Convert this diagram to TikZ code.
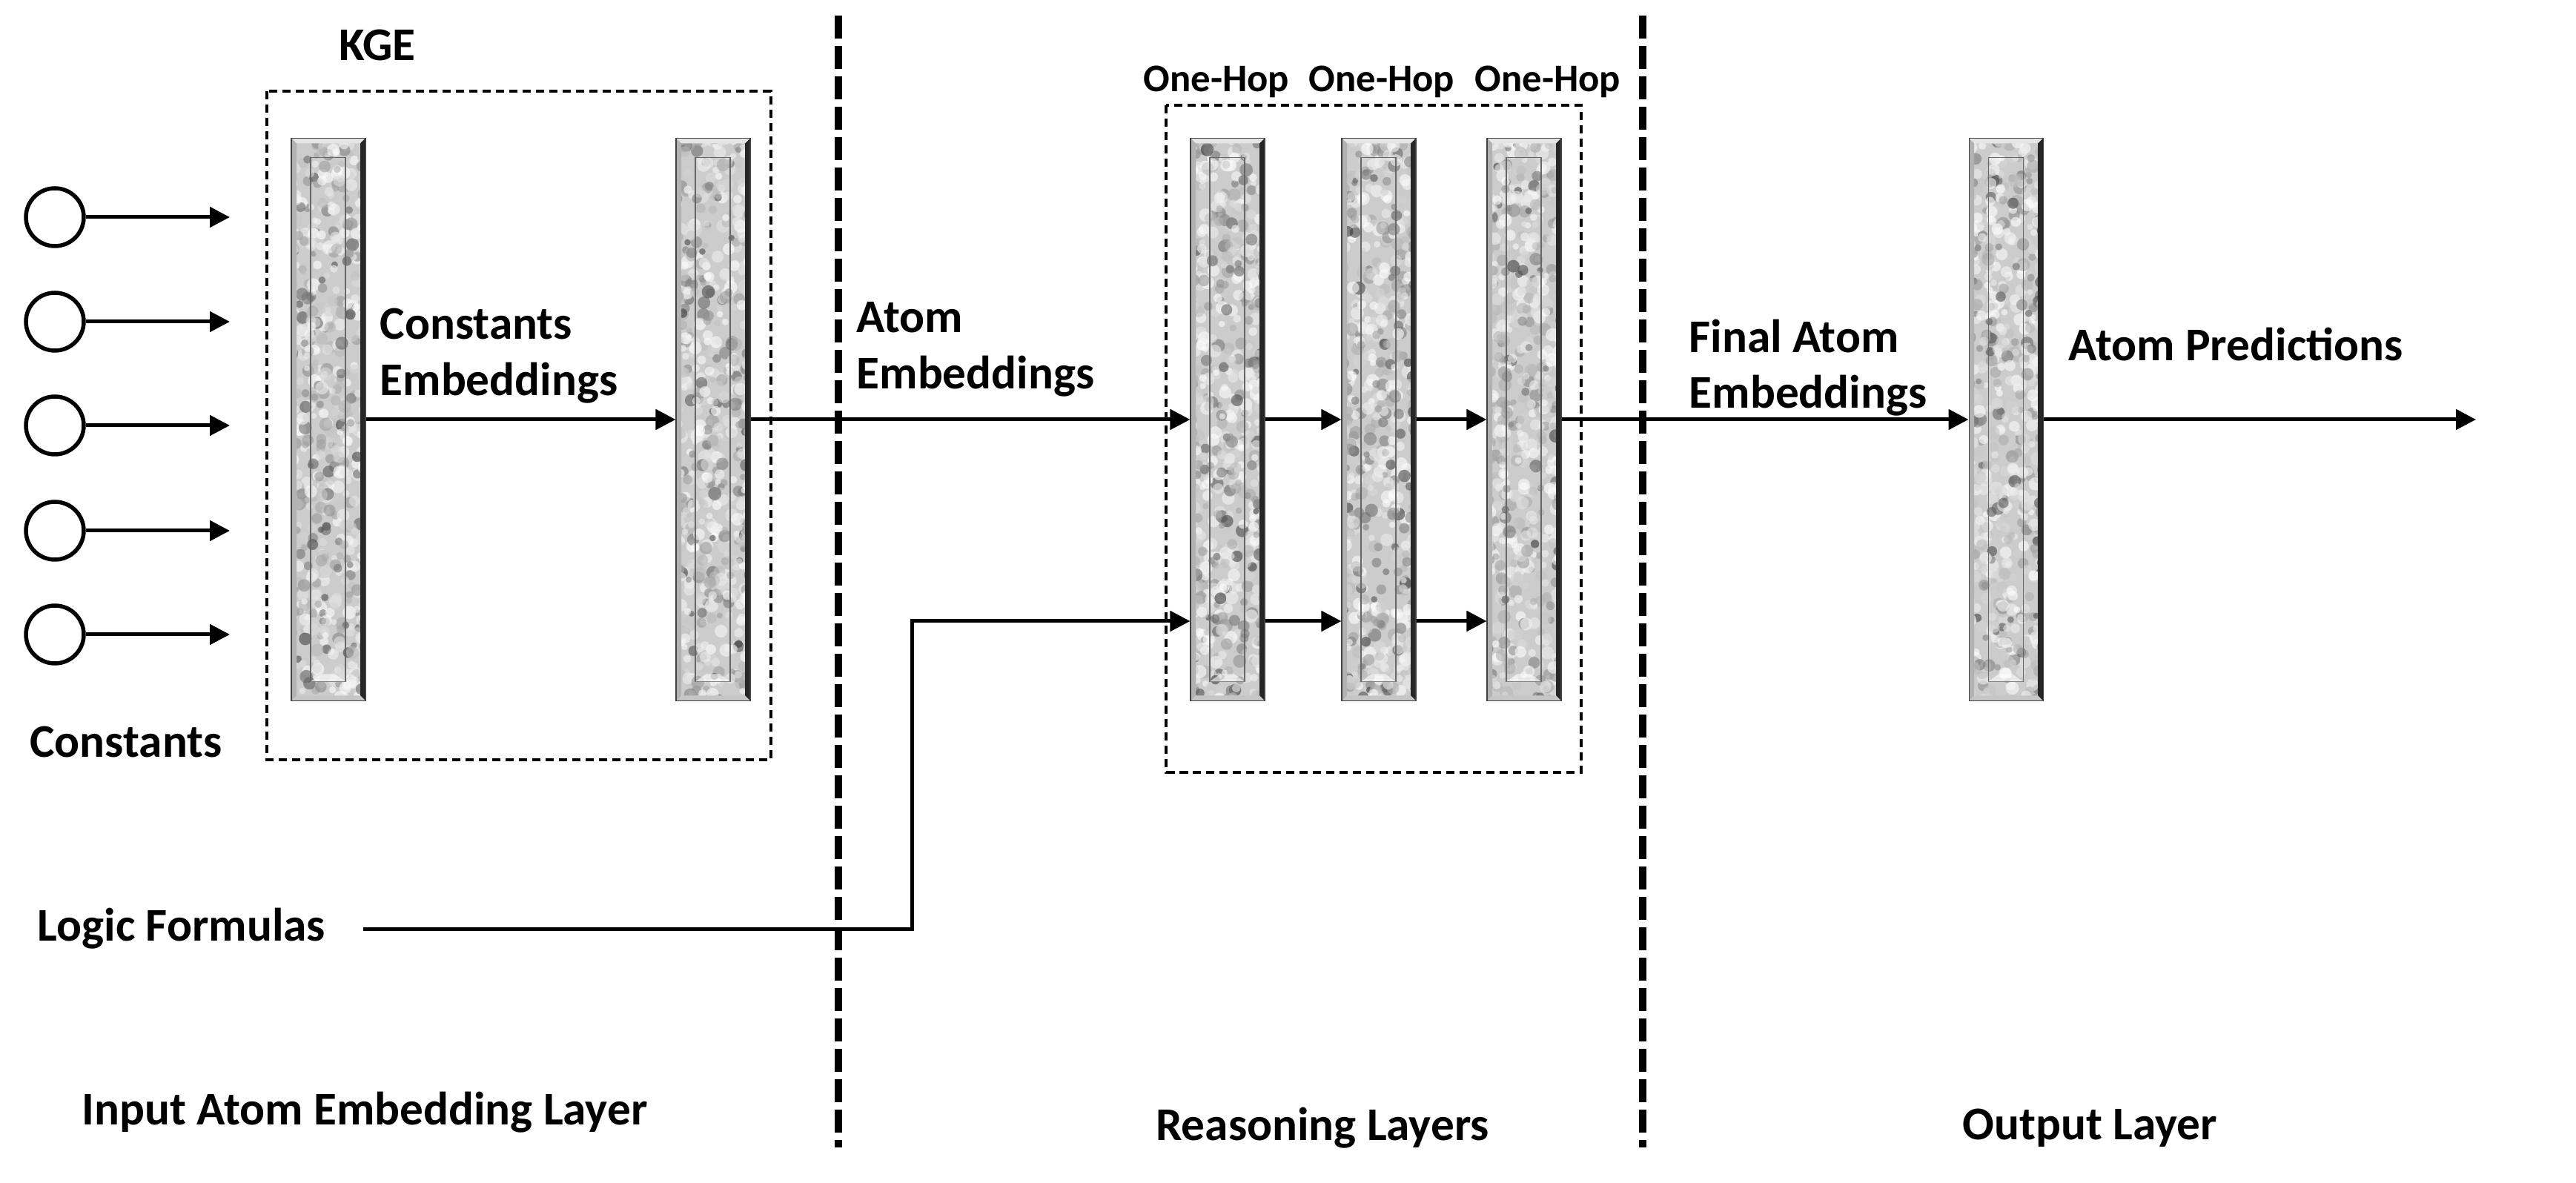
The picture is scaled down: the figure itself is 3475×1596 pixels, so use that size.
\documentclass[tikz,border=0pt]{standalone}
\usepackage{fontspec}
\setmainfont{Carlito}
\usetikzlibrary{arrows.meta}
\usetikzlibrary{positioning}
\usetikzlibrary{calc}
\tikzstyle{conn}=[-{Triangle[length=2.7mm,width=2.7mm]},line width=0.5mm]
\tikzstyle{lbl}=[inner sep=0pt,font=\bfseries\fontsize{18}{21.6}\selectfont,align=left]

\begin{document}
\begin{tikzpicture}[
  x=0.1mm, y=-0.1mm,
  constnode/.style={circle,draw,line width=0.55mm,minimum size=7.8mm,inner sep=0},
  small lbl/.style={lbl,font=\bfseries\fontsize{15}{18}\selectfont},
  groupbox/.style={line width=0.4mm,dash pattern=on 1.15mm off 0.65mm},
  separator/.style={line width=1mm,dash pattern=on 3.1mm off 1mm},
  layer bar/.style={rectangle,minimum width=10mm,minimum height=75.9mm,inner sep=0,
    fill=gray!40,draw=gray!50!black,line width=0.3pt,
    path picture={
      % granite look
      \foreach \k in {1,...,600}{
        \pgfmathsetmacro\gx{rnd}
        \pgfmathsetmacro\gy{rnd}
        \pgfmathsetmacro\gs{0.4+0.5*rnd}
        \pgfmathsetmacro\gt{int(85*rnd*rnd)}
        \fill[black!\gt,fill opacity=0.6] ($(path picture bounding box.north west)+(\gx*100,\gy*759)$) circle[radius=\gs mm];
      }
      % bevel
      \coordinate (bnw) at (path picture bounding box.north west);
      \coordinate (bne) at (path picture bounding box.north east);
      \coordinate (bsw) at (path picture bounding box.south west);
      \coordinate (bse) at (path picture bounding box.south east);
      \fill[gray!20] (bnw) -- (bne) -- ++(-7,7) -- ($(bnw)+(7,7)$) -- cycle;
      \fill[gray!60] (bnw) -- ++(7,7) -- ($(bsw)+(7,-7)$) -- (bsw) -- cycle;
      \fill[black!85] (bne) -- (bse) -- ++(-7,-7) -- ($(bne)+(-7,7)$) -- cycle;
      \fill[gray!45] (bsw) -- (bse) -- ++(-7,-7) -- ($(bsw)+(7,-7)$) -- cycle;
      \draw[black!60,line width=0.3pt] ($(bnw)+(26,26)$) rectangle ($(bse)+(-27,-26)$);
      \fill[white,opacity=0.6] ($(bsw)+(26,-26)$) -- ($(bse)+(-27,-26)$) -- ++(-14,-10) -- ($(bsw)+(40,-36)$) -- cycle;
    }},
]
\useasboundingbox (0,0) rectangle (3475,1596);
\pgfmathsetseed{4}

% layer separators
\draw[separator] (1131,21) -- (1131,1548);
\draw[separator] (2216,21) -- (2216,1548);

% KGE block
\draw[groupbox] (360,123) rectangle (1040,1025);
\node[lbl] (kge) at (509,61) {KGE};
\node[layer bar] (c1) at (443,566) {};
\node[layer bar] (c2) at (962,566) {};

% constants
\foreach \y [count=\i] in {293,434,574,716,856}{
  \node[constnode] (k\i) at (74,\y) {};
  \coordinate (t\i) at (310,\y);
  \draw[conn] (k\i) -- (t\i);
}
\node[lbl] (constants) at (170,1001) {Constants};
\node[lbl,anchor=north west] (ce) at (512,415) {Constants\\Embeddings};
\draw[conn] (c1) -- (c2);

% reasoning block
\draw[groupbox] (1573,142) rectangle (2133,1042);
\node[layer bar] (h1) at (1656,566) {};
\node[layer bar] (h2) at (1860,566) {};
\node[layer bar] (h3) at (2056,566) {};
\node[small lbl] (hop1) at (1641,110) {One-Hop};
\node[small lbl] (hop2) at (1864,110) {One-Hop};
\node[small lbl] (hop3) at (2088,110) {One-Hop};
\node[lbl,anchor=north west] (ae) at (1155,407) {Atom\\Embeddings};
\draw[conn] (c2) -- (h1);
\draw[conn] (h1) -- (h2);
\draw[conn] (h2) -- (h3);

% logic formulas
\node[lbl] (lf) at (245,1253) {Logic Formulas};
\coordinate (bend) at (1230,838);
\draw[conn] ([xshift=5mm]lf.east) -| (bend) -- (bend -| h1.west);
\draw[conn] (bend -| h1.east) -- (bend -| h2.west);
\draw[conn] (bend -| h2.east) -- (bend -| h3.west);

% output
\node[layer bar] (out) at (2706,566) {};
\node[lbl,anchor=north west] (fae) at (2278,430) {Final Atom\\Embeddings};
\node[lbl,anchor=north west] (ap) at (2790,441) {Atom Predictions};
\coordinate (pred) at (3340,566);
\draw[conn] (h3) -- (out);
\draw[conn] (out) -- (pred);

% layer names
\node[lbl] (inl) at (492,1501) {Input Atom Embedding Layer};
\node[lbl] (rl) at (1784,1522) {Reasoning Layers};
\node[lbl] (ol) at (2819,1522) {Output Layer};
\end{tikzpicture}
\end{document}
